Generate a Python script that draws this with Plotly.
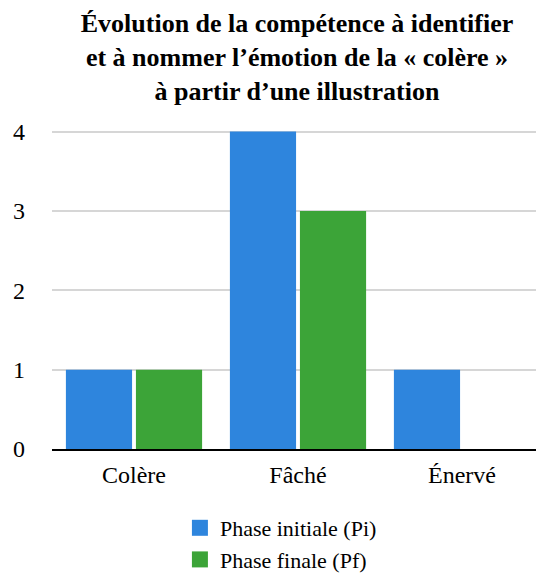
import plotly.graph_objects as go

categories = ["Colère", "Fâché", "Énervé"]
phase_initiale = [1, 4, 1]
phase_finale = [1, 3, 0]
series_names = ["Phase initiale (Pi)", "Phase finale (Pf)"]
y_ticks = [0, 1, 2, 3, 4]

blue = "#2e85dd"
green = "#3ca438"
serif = "Liberation Serif"

W, H = 536, 566  # page body has an 8px margin

fig = go.Figure()
fig.add_trace(go.Bar(x=categories, y=phase_initiale, name=series_names[0],
                     marker=dict(color=blue, line=dict(width=0)), showlegend=False))
fig.add_trace(go.Bar(x=categories, y=phase_finale, name=series_names[1],
                     marker=dict(color=green, line=dict(width=0)), showlegend=False))
# legend proxies (larger square swatches)
for nm, col in zip(series_names, [blue, green]):
    fig.add_trace(go.Scatter(x=[None], y=[None], mode="markers", name=nm,
                             marker=dict(symbol="square", size=24, color=col)))

fig.update_layout(
    width=W, height=H,
    margin=dict(l=44, r=0, t=122, b=125),
    paper_bgcolor="white", plot_bgcolor="white",
    barmode="group", bargap=0.146, bargroupgap=0.055,
    font=dict(family=serif, color="black"),
    title=dict(
        text="<b>Évolution de la compétence à identifier<br>et à nommer l’émotion de la « colère »<br>à partir d’une illustration</b>",
        x=289 / W, xanchor="center", y=1 - 24 / H, yanchor="top", yref="container",
        font=dict(family=serif, size=26, color="black"),
    ),
    xaxis=dict(showgrid=False, showline=True, linecolor="black", linewidth=2,
               ticks="", tickfont=dict(size=24), ticklabelstandoff=3),
    yaxis=dict(range=[0, 4.02], tickvals=y_ticks, showgrid=True, gridcolor="#d6d6d6",
               gridwidth=1.5, zeroline=False, showline=False, ticks="",
               tickfont=dict(size=24), ticklabelstandoff=26),
    legend=dict(x=0.26, xanchor="left", y=1 - 499 / H, yanchor="top", yref="container",
                font=dict(size=22), itemsizing="trace", tracegroupgap=0,
                bgcolor="rgba(0,0,0,0)"),
)

fig.write_html("out.html")
